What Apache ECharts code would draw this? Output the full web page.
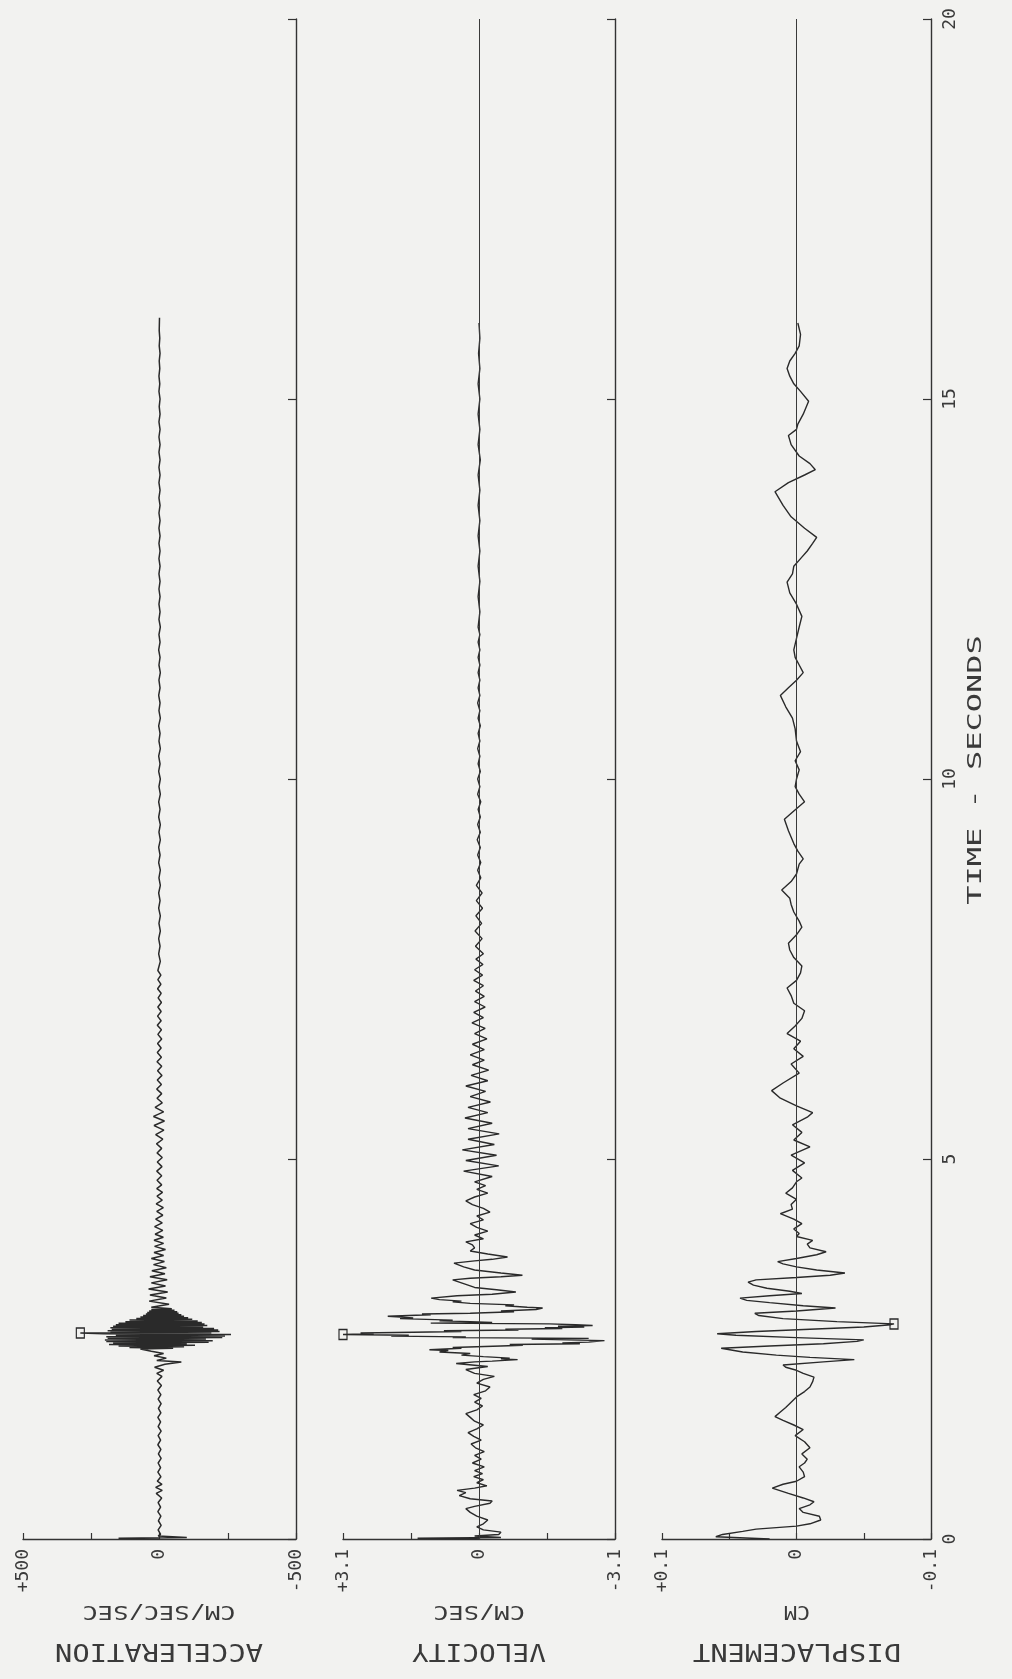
<!DOCTYPE html>
<html>
<head>
<meta charset="utf-8">
<script src="https://cdn.jsdelivr.net/npm/echarts@6/dist/echarts.min.js"></script>
<style>
  html, body { margin: 0; padding: 0; background: #f2f2f0; }
  #chart { width: 1012px; height: 1679px; }
</style>
</head>
<body>
<div id="chart"></div>
<script>
// time (s), value pairs; positive values plot to the left
const accel = [
  [0, 0], [0.01, 150], [0.02, -100], [0.04, 5],
  [0.06, -4], [0.12, 5], [0.18, -6], [0.24, 4], [0.30, -5], [0.36, 6], [0.42, -4], [0.48, 5],
  [0.54, -8], [0.60, 12], [0.64, -10], [0.68, 14], [0.72, -9], [0.76, 8], [0.82, -5], [0.88, 6],
  [0.94, -4], [1.0, 5], [1.06, -6], [1.12, 4], [1.18, -5], [1.24, 6], [1.30, -4], [1.36, 5],
  [1.42, -6], [1.48, 5], [1.54, -4], [1.60, 6], [1.66, -5], [1.72, 4], [1.78, -6], [1.84, 5],
  [1.90, -5], [1.96, 6], [2.02, -7], [2.08, 8], [2.14, -9], [2.18, 10], [2.22, -15], [2.26, 18],
  [2.30, -20], [2.33, -80], [2.35, 10], [2.38, -25], [2.41, 20], [2.44, -15], [2.47, 30],
  [2.50, 70], [2.51, -50], [2.52, 110], [2.53, -90], [2.54, 150], [2.55, -130], [2.56, 185],
  [2.57, -100], [2.58, 170], [2.59, -180], [2.60, 195], [2.61, -195], [2.62, 200], [2.63, -170],
  [2.64, 190], [2.65, -230], [2.66, 195], [2.67, -240], [2.68, 160], [2.69, -262], [2.70, 205],
  [2.71, 290], [2.715, -190], [2.72, 180], [2.73, -220], [2.74, 190], [2.75, -215], [2.76, 175],
  [2.77, -200], [2.78, 180], [2.79, -160], [2.80, 170], [2.81, -175], [2.82, 160], [2.83, -165],
  [2.84, 150], [2.85, -155], [2.86, 125], [2.87, -140], [2.88, 110], [2.89, -120], [2.90, 85],
  [2.91, -105], [2.92, 70], [2.93, -90], [2.94, 60], [2.95, -80], [2.96, 50], [2.97, -70],
  [2.98, 45], [2.99, -65], [3.00, 38], [3.01, -55], [3.02, 30], [3.03, -45],
  [3.05, 30], [3.09, -35], [3.13, 38], [3.17, -25], [3.21, 35], [3.25, -30], [3.29, 40], [3.33, -22],
  [3.37, 30], [3.41, -28], [3.45, 35], [3.49, -20], [3.53, 28], [3.57, -25], [3.61, 22], [3.65, -18],
  [3.69, 30], [3.73, -15], [3.77, 20], [3.81, -22], [3.85, 18], [3.89, -15], [3.93, 20], [3.97, -14],
  [4.01, 16], [4.06, -12], [4.11, 18], [4.16, -10], [4.21, 14], [4.26, -12], [4.31, 10], [4.36, -14],
  [4.41, 12], [4.46, -10], [4.51, 9], [4.56, -11], [4.61, 10], [4.66, -8],
  [4.72, 9], [4.78, -8], [4.84, 10], [4.9, -9], [4.96, 8], [5.02, -10], [5.08, 9], [5.14, -8],
  [5.2, 11], [5.26, -12], [5.32, 14], [5.38, -16], [5.44, 20], [5.5, -18], [5.56, 22], [5.62, -15],
  [5.68, 16], [5.74, -10], [5.8, 9], [5.86, -8], [5.92, 10], [5.98, -7], [6.04, 8], [6.1, -9],
  [6.16, 7], [6.22, -8], [6.28, 9], [6.34, -7], [6.4, 8], [6.46, -6], [6.52, 7], [6.58, -8],
  [6.64, 6], [6.7, -7], [6.76, 8], [6.82, -6], [6.88, 7], [6.94, -6], [7.0, 6], [7.06, -7],
  [7.12, 5], [7.18, -6], [7.24, 7], [7.3, -5], [7.36, 6], [7.42, -5], [7.48, 6],
  [7.6, -3], [7.7, 3], [7.8, -2], [7.9, 3], [8.0, -3], [8.1, 2], [8.2, -3], [8.3, 3], [8.4, -2],
  [8.5, 3], [8.6, -3], [8.7, 2], [8.8, -3], [8.9, 3], [9.0, -2], [9.1, 3], [9.2, -3], [9.3, 2],
  [9.4, -3], [9.5, 3], [9.6, -2], [9.7, 3], [9.8, -3], [9.9, 2], [10.0, -3], [10.1, 3], [10.2, -2],
  [10.3, 3], [10.4, -3], [10.5, 2], [10.6, -2], [10.7, 3], [10.8, -3], [10.9, 2], [11.0, -2],
  [11.1, 3], [11.2, -2], [11.3, 2], [11.4, -3], [11.5, 2], [11.6, -2], [11.7, 3], [11.8, -2],
  [11.9, 2], [12.0, -3], [12.1, 2], [12.2, -2], [12.3, 2], [12.4, -2], [12.5, 2], [12.6, -2],
  [12.7, 2], [12.8, -2], [12.9, 2], [13.0, -2], [13.1, 2], [13.2, -2], [13.3, 2], [13.4, -2],
  [13.5, 2], [13.6, -2], [13.7, 2], [13.8, -2], [13.9, 2], [14.0, -2], [14.1, 2], [14.2, -2],
  [14.3, 2], [14.4, -2], [14.5, 2], [14.6, -2], [14.7, 2], [14.8, -2], [14.9, 1], [15.0, -2],
  [15.1, 2], [15.2, -1], [15.3, 2], [15.4, -1], [15.5, 1], [15.6, -2], [15.7, 1], [15.8, -1],
  [15.9, 1], [16.07, 0]
];

const velocity = [
  [0, 0], [0.01, 1.4], [0.02, -0.5], [0.04, 0.1],
  [0.06, -0.45], [0.09, -0.5], [0.12, -0.1], [0.16, 0.05], [0.2, -0.1], [0.25, -0.2], [0.3, 0.05],
  [0.35, 0.2], [0.4, 0.3], [0.43, 0.1], [0.47, -0.25], [0.5, -0.3], [0.53, 0.2], [0.57, 0.45],
  [0.61, 0.3], [0.64, 0.5], [0.67, 0.1], [0.7, -0.18], [0.74, 0.05], [0.78, -0.1], [0.82, 0.12],
  [0.86, -0.08], [0.9, 0.1], [0.95, -0.12], [1.0, 0.15], [1.05, -0.05], [1.1, 0.1], [1.15, -0.12],
  [1.2, 0.08], [1.25, 0.18], [1.3, -0.05], [1.35, 0.12], [1.4, 0.25], [1.45, 0.05], [1.5, -0.1],
  [1.55, 0.1], [1.6, 0.2], [1.65, 0.3], [1.7, 0.05], [1.75, -0.08], [1.8, 0.1], [1.85, -0.05],
  [1.9, 0.12], [1.95, -0.15], [2.0, -0.25], [2.05, 0.05], [2.1, -0.1], [2.14, -0.35], [2.18, 0.1],
  [2.23, 0.3], [2.27, -0.2], [2.31, 0.52], [2.33, 0.1], [2.34, -0.3], [2.36, -0.88], [2.37, -0.5],
  [2.38, -0.7], [2.40, -0.1], [2.42, 0.4], [2.44, 0.2], [2.46, 0.9], [2.48, 0.7], [2.49, 1.13],
  [2.51, 0.4], [2.52, 0.6], [2.54, -0.5], [2.55, -1.0], [2.56, -0.7], [2.57, -2.3], [2.58, -1.9],
  [2.59, -2.5], [2.61, -2.86], [2.62, -2.0], [2.63, -1.2], [2.64, -2.5], [2.65, 0.6], [2.66, 0.3],
  [2.67, 2.0], [2.68, 1.6], [2.69, 3.1], [2.70, 2.4], [2.71, 2.7], [2.72, 1.5], [2.73, 0.4],
  [2.74, 0.8], [2.75, -0.9], [2.76, -0.6], [2.77, -1.9], [2.78, -1.5], [2.79, -2.4], [2.80, -1.8],
  [2.81, -2.59], [2.82, -2.2], [2.83, -1.6], [2.84, 1.1], [2.85, -0.3], [2.86, 0.2], [2.87, 0.9],
  [2.88, 0.6], [2.90, 1.8], [2.91, 1.5], [2.93, 2.08], [2.94, 1.6], [2.95, 1.1], [2.96, 1.3],
  [2.97, 0.2], [2.99, -0.8], [3.0, -0.5], [3.02, -1.3], [3.04, -1.45], [3.05, -1.1], [3.07, -0.6],
  [3.08, -0.8], [3.1, 0.2], [3.12, 0.6], [3.13, 0.4], [3.15, 0.9], [3.17, 1.09],
  [3.2, 0.5], [3.22, -0.3], [3.25, -0.84], [3.28, -0.4], [3.31, 0.1], [3.35, 0.3], [3.38, 0.45],
  [3.41, 0.6], [3.43, 0.2], [3.45, -0.5], [3.47, -0.99], [3.5, -0.5], [3.54, 0.1], [3.58, 0.35],
  [3.63, 0.57], [3.66, 0.1], [3.68, -0.3], [3.71, -0.65], [3.75, -0.2], [3.79, 0.2], [3.83, 0.1],
  [3.87, 0.15], [3.91, 0.3], [3.95, -0.1], [4.0, 0.1], [4.05, -0.2], [4.1, 0.05], [4.15, 0.2],
  [4.2, -0.1], [4.25, 0.05], [4.3, -0.25], [4.35, -0.1], [4.4, 0.15], [4.45, 0.3], [4.5, 0.1],
  [4.55, -0.2], [4.6, 0.05], [4.65, -0.15],
  [4.7, 0.1], [4.77, -0.3], [4.84, 0.35], [4.91, -0.45], [4.98, 0.3], [5.05, -0.4], [5.12, 0.38],
  [5.19, -0.35], [5.26, 0.25], [5.33, -0.46], [5.4, 0.25], [5.47, -0.3], [5.54, 0.32], [5.61, -0.2],
  [5.68, 0.25], [5.75, -0.26], [5.82, 0.2], [5.89, -0.15], [5.96, 0.3], [6.03, -0.2], [6.1, 0.18],
  [6.17, -0.22], [6.24, 0.15], [6.3, -0.12], [6.37, 0.2], [6.44, -0.12], [6.51, 0.15], [6.58, -0.18],
  [6.65, 0.1], [6.72, -0.14], [6.79, 0.16], [6.86, -0.1], [6.93, 0.12], [7.0, -0.14], [7.07, 0.1],
  [7.14, -0.12], [7.21, 0.08], [7.28, -0.1], [7.35, 0.12], [7.42, -0.08], [7.49, 0.1], [7.56, -0.09],
  [7.63, 0.07], [7.7, -0.1], [7.8, 0.08], [7.9, -0.07], [8.0, 0.09], [8.1, -0.06], [8.2, 0.07],
  [8.3, -0.08], [8.4, 0.06], [8.5, -0.07], [8.6, 0.06], [8.7, -0.04], [8.8, 0.03], [8.9, -0.04],
  [9.0, 0.03], [9.1, -0.03], [9.2, 0.04], [9.3, -0.03], [9.4, 0.03], [9.5, -0.03], [9.6, 0.02],
  [9.7, -0.04], [9.8, 0.03], [9.9, -0.02], [10.0, 0.03], [10.1, -0.03], [10.2, 0.02], [10.3, -0.02],
  [10.4, 0.03], [10.5, -0.02], [10.6, 0.02], [10.7, -0.03], [10.8, 0.02], [10.9, -0.02], [11.0, 0.03],
  [11.1, -0.02], [11.2, 0.02], [11.3, -0.02], [11.4, 0.02], [11.5, -0.02], [11.6, 0.02], [11.7, -0.02],
  [11.8, 0.02], [11.9, -0.02], [12.0, 0.02], [12.2, -0.02], [12.4, 0.02], [12.6, -0.02], [12.8, 0.02],
  [13.0, -0.02], [13.2, 0.02], [13.4, -0.02], [13.6, 0.02], [13.8, -0.02], [14.0, 0.02], [14.2, -0.03],
  [14.4, 0.02], [14.6, -0.02], [14.8, 0.02], [15.0, -0.02], [15.2, 0.02], [15.4, -0.02], [15.6, 0.01],
  [15.8, -0.02], [16.0, 0]
];

const displacement = [
  [0, 0.02], [0.03, 0.06], [0.06, 0.055], [0.1, 0.04], [0.13, 0.03], [0.17, 0.0], [0.2, -0.01],
  [0.25, -0.018], [0.3, -0.017], [0.35, -0.005], [0.4, -0.002], [0.45, -0.01], [0.49, -0.013],
  [0.54, -0.005], [0.6, 0.006], [0.67, 0.018], [0.72, 0.01], [0.76, 0.0], [0.82, -0.006],
  [0.88, -0.005], [0.95, -0.002], [1.0, -0.006], [1.05, -0.008], [1.12, -0.004], [1.2, -0.01],
  [1.28, -0.006], [1.36, 0.001], [1.44, -0.005], [1.5, 0.002], [1.56, 0.01], [1.61, 0.016],
  [1.67, 0.012], [1.73, 0.008], [1.8, 0.004], [1.87, 0.0], [1.94, -0.006], [2.0, -0.01],
  [2.07, -0.012], [2.13, -0.013], [2.18, -0.005], [2.22, 0.0], [2.26, 0.008], [2.29, 0.01],
  [2.33, -0.02], [2.36, -0.043], [2.39, -0.01], [2.42, 0.015], [2.46, 0.04], [2.51, 0.056],
  [2.54, 0.02], [2.57, -0.02], [2.6, -0.045], [2.62, -0.05], [2.65, 0.0], [2.68, 0.045],
  [2.7, 0.059], [2.73, 0.03], [2.76, -0.01], [2.79, -0.05], [2.82, -0.07], [2.83, -0.0725],
  [2.86, -0.03], [2.9, 0.01], [2.94, 0.028], [2.97, 0.031], [3.0, 0.0], [3.04, -0.029],
  [3.07, -0.005], [3.11, 0.02], [3.14, 0.037], [3.17, 0.042], [3.2, 0.02], [3.23, -0.004],
  [3.26, 0.005], [3.3, 0.022], [3.34, 0.032], [3.38, 0.036], [3.41, 0.03], [3.44, 0.0],
  [3.47, -0.025], [3.5, -0.036], [3.54, -0.015], [3.58, 0.0], [3.62, 0.01], [3.65, 0.014],
  [3.69, 0.0], [3.74, -0.015], [3.78, -0.022], [3.83, -0.01], [3.88, -0.008], [3.93, -0.012],
  [3.98, 0.0], [4.02, -0.002], [4.08, 0.002], [4.15, -0.004], [4.21, 0.002], [4.28, 0.012],
  [4.34, 0.003], [4.4, 0.004], [4.47, 0.0], [4.55, 0.008], [4.62, 0.003], [4.7, 0.0],
  [4.75, -0.004], [4.85, 0.003], [4.95, -0.006], [5.05, 0.004], [5.16, -0.01], [5.25, 0.002],
  [5.35, -0.004], [5.45, 0.003], [5.55, -0.008], [5.61, -0.012], [5.7, 0.0], [5.8, 0.012],
  [5.9, 0.0185], [6.0, 0.01], [6.13, -0.002], [6.25, 0.004], [6.35, -0.005], [6.45, 0.002],
  [6.55, -0.003], [6.65, 0.007], [6.75, 0.001], [6.85, -0.004], [6.95, -0.006], [7.05, 0.002],
  [7.15, 0.004], [7.25, 0.007], [7.35, 0.0], [7.45, -0.003], [7.54, -0.004], [7.65, 0.002],
  [7.75, 0.005], [7.84, 0.006], [7.95, 0.0], [8.05, -0.004], [8.13, -0.002], [8.25, 0.002],
  [8.35, 0.004], [8.43, 0.005], [8.54, 0.011], [8.65, 0.004], [8.75, 0.0], [8.88, -0.002],
  [8.95, -0.005], [9.05, -0.001], [9.15, 0.002], [9.32, 0.006], [9.47, 0.009], [9.58, 0.002],
  [9.7, -0.006], [9.8, -0.002], [9.9, 0.001], [10.0, 0.0], [10.12, -0.002], [10.24, 0.001],
  [10.36, -0.003], [10.5, 0.0], [10.66, 0.001], [10.8, 0.003], [10.95, 0.008], [11.1, 0.012],
  [11.2, 0.006], [11.3, 0.0], [11.4, -0.005], [11.5, -0.002], [11.6, 0.001], [11.7, 0.002],
  [11.85, 0.0], [12.0, -0.002], [12.14, -0.004], [12.3, 0.0], [12.45, 0.005], [12.59, 0.007],
  [12.7, 0.003], [12.8, 0.002], [12.9, -0.003], [13.0, -0.008], [13.1, -0.012], [13.18, -0.015],
  [13.3, -0.006], [13.45, 0.004], [13.6, 0.01], [13.78, 0.016], [13.9, 0.006], [14.0, -0.006],
  [14.07, -0.014], [14.15, -0.01], [14.25, -0.002], [14.4, 0.004], [14.52, 0.006], [14.6, 0.0],
  [14.67, -0.001], [14.8, -0.005], [14.97, -0.009], [15.1, -0.003], [15.2, 0.002], [15.3, 0.005],
  [15.4, 0.007], [15.5, 0.005], [15.6, 0.001], [15.7, -0.002], [15.85, -0.003], [16.0, -0.001]
];

// peak markers [time, value]
const peaks = [[2.71, 290], [2.69, 3.1], [2.83, -0.0725]];
const ranges = [500, 3.1, 0.1];
const endLabels = [['+500', '-500'], ['+3.1', '-3.1'], ['+0.1', '-0.1']];
const titles = ['ACCELERATION', 'VELOCITY', 'DISPLACEMENT'];
const units = ['CM/SEC/SEC', 'CM/SEC', 'CM'];
const timeTicks = [0, 5, 10, 15, 20];

const ink = '#333';
const font = '"DejaVu Sans Mono", monospace';
const panels = [
  { left: 23, width: 273, mid: 159 },
  { left: 343, width: 272, mid: 479 },
  { left: 662, width: 269, mid: 797 }
];

const chart = echarts.init(document.getElementById('chart'));

const grid = panels.map(p => ({ left: p.left, width: p.width, top: 19, height: 1520 }));

const xAxis = ranges.map((r, i) => ({
  type: 'value',
  gridIndex: i,
  min: -r,
  max: r,
  interval: r / 2,
  inverse: true,
  position: 'bottom',
  axisLine: { onZero: false, lineStyle: { color: ink, width: 1.4 } },
  axisTick: { inside: true, length: 6, lineStyle: { color: ink, width: 1.2 } },
  splitLine: { show: false },
  axisLabel: {
    rotate: 90,
    margin: 10,
    color: '#3a3a3a',
    fontFamily: font,
    fontSize: 18,
    formatter: v => {
      if (Math.abs(v) < r * 1e-6) return '0';
      if (Math.abs(Math.abs(v) - r) < r * 1e-6) return v > 0 ? endLabels[i][0] : endLabels[i][1];
      return '';
    }
  }
}));

const yAxis = ranges.map((r, i) => ({
  type: 'value',
  gridIndex: i,
  min: 0,
  max: 20,
  interval: 5,
  position: 'right',
  axisLine: { onZero: false, lineStyle: { color: ink, width: 1.4 } },
  axisTick: { inside: true, length: 8, lineStyle: { color: ink, width: 1.2 } },
  splitLine: { show: false },
  axisLabel: {
    show: i === 2,
    rotate: 90,
    margin: 10,
    color: '#3a3a3a',
    fontFamily: font,
    fontSize: 18,
    formatter: v => timeTicks.indexOf(v) >= 0 ? String(v) : ''
  }
}));

const records = [accel, velocity, displacement];
const series = records.map((rec, i) => ({
  type: 'line',
  xAxisIndex: i,
  yAxisIndex: i,
  data: rec.map(p => [p[1], p[0]]),
  showSymbol: false,
  symbol: 'none',
  lineStyle: { color: '#2a2a2a', width: i === 0 ? 1.5 : 1.4 },
  silent: true,
  markPoint: {
    symbol: 'rect',
    symbolSize: [8, 10],
    itemStyle: { color: 'rgba(0,0,0,0)', borderColor: '#2a2a2a', borderWidth: 1.3 },
    label: { show: false },
    data: [{ coord: [peaks[i][1], peaks[i][0]] }]
  },
  markLine: i === 0 ? undefined : {
    silent: true,
    symbol: 'none',
    label: { show: false },
    lineStyle: { color: '#3a3a3a', width: 1, type: 'solid' },
    data: [{ xAxis: 0 }]
  }
}));

function txt(text, x, y, size, sx, rot) {
  return {
    type: 'text',
    x: x,
    y: y,
    rotation: rot,
    scaleX: sx,
    silent: true,
    style: {
      text: text,
      font: size + 'px ' + font,
      fill: '#3a3a3a',
      align: 'center',
      verticalAlign: 'middle',
      textAlign: 'center',
      textVerticalAlign: 'middle'
    }
  };
}

const graphic = [];
panels.forEach((p, i) => {
  graphic.push(txt(titles[i], p.mid, 1650, 24, titles[i].length > 8 ? 1.2 : 1.16, Math.PI));
  graphic.push(txt(units[i], p.mid, 1611, 20, units[i].length > 2 ? 1.27 : 1.08, Math.PI));
});
graphic.push(txt('TIME - SECONDS', 976, 770, 20, 1.6, Math.PI / 2));

chart.setOption({
  backgroundColor: '#f2f2f0',
  animation: false,
  grid: grid,
  xAxis: xAxis,
  yAxis: yAxis,
  series: series,
  graphic: graphic
});
</script>
</body>
</html>
